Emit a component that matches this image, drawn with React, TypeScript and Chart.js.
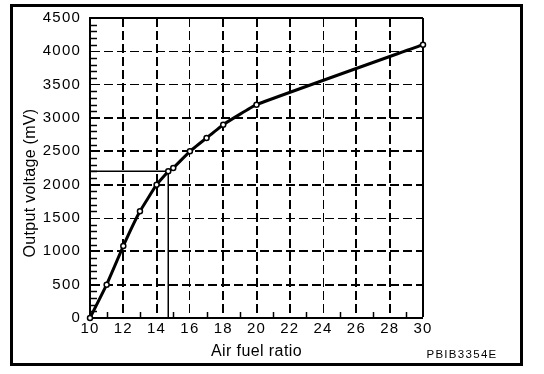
import React, { useEffect, useRef } from "react";
import { Chart, registerables } from "chart.js";

Chart.register(...registerables);

const airFuelRatio = [10, 11, 12, 13, 14, 14.7, 15, 16, 17, 18, 20, 30];
const outputMv = [0, 500, 1080, 1600, 2000, 2200, 2250, 2500, 2700, 2900, 3200, 4100];
const refRatio = [10, 14.7, 14.7];
const refMv = [2200, 2200, 0];
const xTicks = [10, 12, 14, 16, 18, 20, 22, 24, 26, 28, 30];
const yTicks = [0, 500, 1000, 1500, 2000, 2500, 3000, 3500, 4000, 4500];
const xThin = [16, 24];
const yThin = [1500, 3500, 4000];
const xMinor = [11, 13, 15, 17, 19, 21, 23, 25, 27, 29];
const yMinorStep = 100;
const xTitle = "Air fuel ratio";
const yTitle = "Output voltage (mV)";
const codeLabel = "PBIB3354E";
const FONT = "'Liberation Sans', Arial, sans-serif";

const framePlugin = {
  id: "frame",
  beforeDraw(chart: any) {
    const ctx = chart.ctx;
    ctx.save();
    ctx.fillStyle = "#fff";
    ctx.fillRect(0, 0, chart.width, chart.height);
    ctx.restore();
    ctx.letterSpacing = "1.2px";
  },
  afterDraw(chart: any) {
    const ctx = chart.ctx;
    const xs = chart.scales.x;
    const ys = chart.scales.y;
    const a = chart.chartArea;
    ctx.save();
    ctx.strokeStyle = "#000";
    ctx.lineWidth = 1.5;
    for (let v = yMinorStep; v < 4500; v += yMinorStep) {
      if (v % 500 === 0) continue;
      const py = Math.round(ys.getPixelForValue(v)) + 0.5;
      ctx.beginPath();
      ctx.moveTo(a.left, py);
      ctx.lineTo(a.left + 7, py);
      ctx.stroke();
    }
    xMinor.forEach((v) => {
      const px = Math.round(xs.getPixelForValue(v)) + 0.5;
      ctx.beginPath();
      ctx.moveTo(px, a.bottom);
      ctx.lineTo(px, a.bottom - 6);
      ctx.stroke();
    });
    ctx.lineWidth = 3;
    ctx.strokeRect(11.5, 5.5, 510, 359);
    ctx.fillStyle = "#000";
    ctx.textAlign = "center";
    ctx.textBaseline = "middle";
    ctx.letterSpacing = "0.4px";
    ctx.font = "16px " + FONT;
    ctx.fillText(xTitle, (a.left + a.right) / 2, 352);
    ctx.save();
    ctx.translate(31, 183);
    ctx.rotate(-Math.PI / 2);
    ctx.letterSpacing = "0.3px";
    ctx.font = "16px " + FONT;
    ctx.fillText(yTitle, 0, 0);
    ctx.restore();
    ctx.letterSpacing = "1.3px";
    ctx.font = "11.5px " + FONT;
    ctx.fillText(codeLabel, 462, 354.5);
    ctx.restore();
  },
};

export default function App() {
  const ref = useRef<HTMLCanvasElement>(null);
  useEffect(() => {
    document.body.style.margin = "0";
    const canvas = ref.current;
    if (!canvas) return;
    const chart = new Chart(canvas, {
      type: "line",
      data: {
        datasets: [
          {
            label: "Output",
            data: airFuelRatio.map((x, i) => ({ x, y: outputMv[i] })),
            borderColor: "#000",
            borderWidth: 3,
            pointRadius: 2.5,
            pointBackgroundColor: "#fff",
            pointBorderColor: "#000",
            pointBorderWidth: 1.5,
            tension: 0.1,
            clip: 6,
            order: 0,
          },
          {
            label: "ref",
            data: refRatio.map((x, i) => ({ x, y: refMv[i] })),
            borderColor: "#000",
            borderWidth: 1.5,
            pointRadius: 0,
            tension: 0,
            order: 1,
          },
        ],
      },
      options: {
        responsive: false,
        animation: false,
        events: [],
        layout: { padding: { left: 0, right: 121, top: 17, bottom: 0 } },
        plugins: { legend: { display: false }, tooltip: { enabled: false } },
        scales: {
          x: {
            type: "linear",
            min: 10,
            max: 30,
            afterBuildTicks: (s: any) => {
              s.ticks = xTicks.map((v) => ({ value: v }));
            },
            afterFit: (s: any) => {
              s.height = 56;
            },
            ticks: {
              color: "#000",
              font: { family: FONT, size: 15 },
              padding: 2,
              maxRotation: 0,
              autoSkip: false,
              callback: (v: any) => String(v),
            },
            grid: {
              color: "#000",
              drawTicks: false,
              lineWidth: (c: any) => {
                const v = c.tick?.value;
                if (v === 30) return 2;
                if (v === 10) return 0;
                return xThin.includes(v) ? 1 : 2;
              },
            },
            border: {
              display: true,
              color: "#000",
              width: 2,
              dash: (c: any) => {
                const v = c.tick?.value;
                return v === 30 ? [] : [9, 4];
              },
            },
            title: { display: false },
          },
          y: {
            type: "linear",
            min: 0,
            max: 4500,
            afterBuildTicks: (s: any) => {
              s.ticks = yTicks.map((v) => ({ value: v }));
            },
            afterFit: (s: any) => {
              s.width = 90;
            },
            ticks: {
              color: "#000",
              font: { family: FONT, size: 15 },
              padding: 9,
              autoSkip: false,
              callback: (v: any) => String(v),
            },
            grid: {
              color: "#000",
              drawTicks: false,
              lineWidth: (c: any) => {
                const v = c.tick?.value;
                if (v === 4500) return 2;
                if (v === 0) return 0;
                return yThin.includes(v) ? 1 : 2;
              },
            },
            border: {
              display: true,
              color: "#000",
              width: 2,
              dash: (c: any) => {
                const v = c.tick?.value;
                return v === 4500 ? [] : [9, 4];
              },
            },
            title: { display: false },
          },
        },
      },
      plugins: [framePlugin],
    } as any);
    return () => chart.destroy();
  }, []);
  return <canvas ref={ref} width={544} height={374} style={{ display: "block" }} />;
}
